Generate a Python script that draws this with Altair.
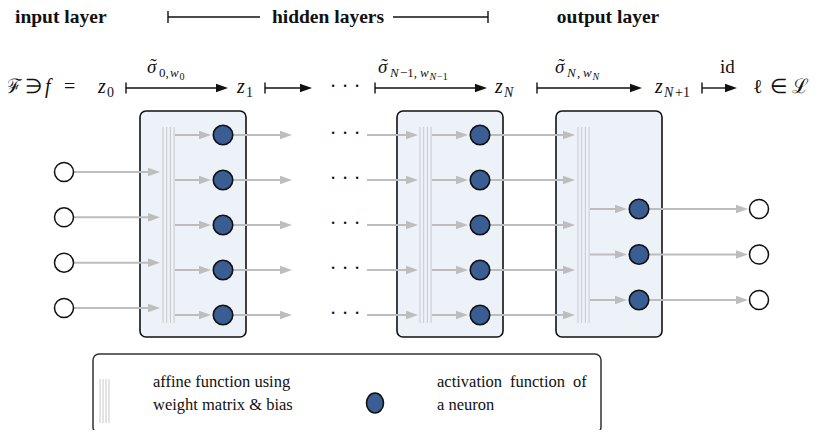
import altair as alt
import pandas as pd

# ---------------- content ----------------
header_labels = ["input layer", "hidden layers", "output layer"]
layer_counts = {"input": 4, "hidden": 5, "output": 3}
legend_affine_lines = ["affine function using", "weight matrix & bias"]
legend_neuron_words = ["activation", "function", "of"]
legend_neuron_line2 = ["a neuron"]
ellipsis_dot = "·"

# ---------------- layout (page pixel coordinates) ----------------
IN_X, H1_X, H2_X, ON_X, OUT_X = 64, 223, 480, 639, 759
HID_C, HID_SP = 225, 45
IN_C, IN_SP = 240, 45.33
OUT_C, OUT_SP = 254.5, 45.5


def rows(n, c, sp):
    return [c + (i - (n - 1) / 2) * sp for i in range(n)]


in_rows = rows(layer_counts["input"], IN_C, IN_SP)
hid_rows = rows(layer_counts["hidden"], HID_C, HID_SP)
out_rows = rows(layer_counts["output"], OUT_C, OUT_SP)

BOXES = [(140, 246), (397, 503), (556, 662)]
BOX_Y = (111, 337)
AFF_X0 = [163, 420, 578]
AFF_N, AFF_SP = 4, 3.7
AFF_Y = (127, 323)

ROW_Y = 88
TOP_ARROWS = [(126, 228), (265, 312), (375, 487), (537, 642), (702, 737)]
DOT_X = [333, 345, 357]

HB_Y = 17
HB_SEGS = [(168, 260), (393, 488)]
HB_TICKS = [168, 488]

LEG = (93, 601, 354, 433)
LEG_AFF_X0, LEG_AFF_Y = 100, (379, 423)
LEG_NEURON = (375, 403)

GRAY = "#bdbdbd"
AFF_COL = "#c9c9c9"
BOX_FILL = "#edf2f9"
NEURON = "#3a5e93"
INK = "#111111"
FONT = "Liberation Serif"

ARROW_PATH = "M0,0 L-1,-0.36 L-1,0.36 Z"
ELLIPSE_PATH = "M-0.85,0 A0.85,1 0 1,1 0.85,0 A0.85,1 0 1,1 -0.85,0 Z"

xs = alt.Scale(domain=[8, 811], nice=False, zero=False)
ys = alt.Scale(domain=[8, 430], nice=False, zero=False, reverse=True)


def X(f="x"):
    return alt.X(f"{f}:Q", scale=xs, axis=None)


def Y(f="y"):
    return alt.Y(f"{f}:Q", scale=ys, axis=None)


layers = []

# boxes
boxes = pd.DataFrame([{"x": a, "x2": b, "y": BOX_Y[0], "y2": BOX_Y[1]} for a, b in BOXES])
layers.append(alt.Chart(boxes).mark_rect(cornerRadius=6, fill=BOX_FILL, stroke=INK, strokeWidth=1.6)
              .encode(x=X(), x2="x2:Q", y=Y(), y2="y2:Q"))

# legend box
leg = pd.DataFrame([{"x": LEG[0], "x2": LEG[1], "y": LEG[2], "y2": LEG[3]}])
layers.append(alt.Chart(leg).mark_rect(cornerRadius=6, fill="white", stroke="#333333", strokeWidth=1.5)
              .encode(x=X(), x2="x2:Q", y=Y(), y2="y2:Q"))

# affine vertical lines
aff = []
for x0 in AFF_X0:
    for k in range(AFF_N):
        aff.append({"x": x0 + k * AFF_SP, "y": AFF_Y[0], "y2": AFF_Y[1]})
for k in range(AFF_N):
    aff.append({"x": LEG_AFF_X0 + k * 3.0, "y": LEG_AFF_Y[0], "y2": LEG_AFF_Y[1]})
layers.append(alt.Chart(pd.DataFrame(aff)).mark_rule(color=AFF_COL, strokeWidth=1)
              .encode(x=X(), y=Y(), y2="y2:Q"))

# gray arrows
gray_arrows = [
    (IN_X, 160, in_rows),
    (175, 211, hid_rows),
    (H1_X, 292, hid_rows),
    (367, 418, hid_rows),
    (432, 468, hid_rows),
    (H2_X, 575, hid_rows),
    (590, 627, out_rows),
    (ON_X, 748, out_rows),
]
shafts, heads = [], []
for x0, tip, rr in gray_arrows:
    for r in rr:
        shafts.append({"x": x0, "x2": tip - 8, "y": r})
        heads.append({"x": tip, "y": r})
layers.append(alt.Chart(pd.DataFrame(shafts)).mark_rule(color=GRAY, strokeWidth=2)
              .encode(x=X(), x2="x2:Q", y=Y()))
layers.append(alt.Chart(pd.DataFrame(heads)).mark_point(shape=ARROW_PATH, size=576, filled=True,
                                                        fill=GRAY, opacity=1, strokeWidth=0)
              .encode(x=X(), y=Y()))

# neurons
neur = [{"x": H1_X, "y": r} for r in hid_rows] + [{"x": H2_X, "y": r} for r in hid_rows] + \
       [{"x": ON_X, "y": r} for r in out_rows]
layers.append(alt.Chart(pd.DataFrame(neur)).mark_point(shape="circle", size=380, filled=True, fill=NEURON,
                                                       stroke=INK, strokeWidth=1.6, opacity=1)
              .encode(x=X(), y=Y()))
layers.append(alt.Chart(pd.DataFrame([{"x": LEG_NEURON[0], "y": LEG_NEURON[1]}]))
              .mark_point(shape=ELLIPSE_PATH, size=400, filled=True, fill=NEURON,
                          stroke=INK, strokeWidth=1.6, opacity=1)
              .encode(x=X(), y=Y()))

# input / output nodes
nodes = [{"x": IN_X, "y": r} for r in in_rows] + [{"x": OUT_X, "y": r} for r in out_rows]
layers.append(alt.Chart(pd.DataFrame(nodes)).mark_point(shape="circle", size=361, filled=True, fill="white",
                                                        stroke=INK, strokeWidth=1.5, opacity=1)
              .encode(x=X(), y=Y()))

# top black maps-to arrows and header bracket
bs, bt, bh = [], [], []
for a, b in TOP_ARROWS:
    bs.append({"x": a, "x2": b - 8, "y": ROW_Y})
    bt.append({"x": a, "y": ROW_Y - 5.5, "y2": ROW_Y + 5.5})
    bh.append({"x": b, "y": ROW_Y})
for a, b in HB_SEGS:
    bs.append({"x": a, "x2": b, "y": HB_Y})
for t in HB_TICKS:
    bt.append({"x": t, "y": HB_Y - 6, "y2": HB_Y + 6})
layers.append(alt.Chart(pd.DataFrame(bs)).mark_rule(color=INK, strokeWidth=1.4)
              .encode(x=X(), x2="x2:Q", y=Y()))
layers.append(alt.Chart(pd.DataFrame(bt)).mark_rule(color=INK, strokeWidth=1.4)
              .encode(x=X(), y=Y(), y2="y2:Q"))
layers.append(alt.Chart(pd.DataFrame(bh)).mark_point(shape=ARROW_PATH, size=576, filled=True,
                                                     fill=INK, opacity=1, strokeWidth=0)
              .encode(x=X(), y=Y()))

# ---------------- texts ----------------
texts = []


def T(text, x, y, fs, align="left", style="normal", weight="normal"):
    texts.append({"label": text, "x": x, "y": y, "fs": fs, "al": align, "st": style, "we": weight})


# header
HY = 23
T(header_labels[0], 15, HY, 19.5, weight="bold")
T(header_labels[1], 328, HY, 19.5, align="center", weight="bold")
T(header_labels[2], 608, HY, 19.5, align="center", weight="bold")

# main row
RB = ROW_Y + 5
T("ℱ", 5, RB, 20)
T("∋", 25, RB, 20)
T("f", 45, RB, 20, style="italic")
T("=", 64, RB, 20)
T("z", 98, RB, 20, style="italic")
T("0", 107, RB + 4, 14)
T("z", 237, RB, 20, style="italic")
T("1", 246, RB + 4, 14)
T("z", 495, RB, 20, style="italic")
T("N", 504, RB + 4, 14, style="italic")
T("z", 655, RB, 20, style="italic")
T("N", 664, RB + 4, 14, style="italic")
T("+1", 675, RB + 4, 14)
T("ℓ", 753, RB, 20)
T("∈", 770, RB, 20)
T("ℒ", 792, RB, 20)

# sigma labels (sigma + tilde + subscripts)
SB = 73
for sx in [147, 378, 555]:
    T("σ", sx, SB, 19, style="italic")
    T("˜", sx + 6.5, SB - 1, 19, align="center")
T("0,", 159, SB + 4, 13)
T("w", 170, SB + 4, 13, style="italic")
T("0", 179.5, SB + 7, 10)
T("N", 390, SB + 4, 13, style="italic")
T("−1,", 400, SB + 4, 13)
T("w", 420, SB + 4, 13, style="italic")
T("N", 429.5, SB + 7, 10, style="italic")
T("−1", 437, SB + 7, 10)
T("N", 567, SB + 4, 13, style="italic")
T(",", 577, SB + 4, 13)
T("w", 583, SB + 4, 13, style="italic")
T("N", 592.5, SB + 7, 10, style="italic")
T("id", 720, SB, 19)

# ellipsis dots
for r in hid_rows + [ROW_Y]:
    for dx in DOT_X:
        T(ellipsis_dot, dx, r + 5, 20, align="center")

# legend texts
T(legend_affine_lines[0], 153, 387, 16.5)
T(legend_affine_lines[1], 153, 410, 16.5)
for w, x in zip(legend_neuron_words, [437, 510, 573]):
    T(w, x, 387, 16.5)
T(legend_neuron_line2[0], 437, 410, 16.5)

tdf = pd.DataFrame(texts)
for (al, st, we, fs), g in tdf.groupby(["al", "st", "we", "fs"]):
    kw = dict(align=al, baseline="alphabetic", font=FONT, fontSize=float(fs), color=INK)
    if st != "normal":
        kw["fontStyle"] = st
    if we != "normal":
        kw["fontWeight"] = we
    layers.append(alt.Chart(g).mark_text(**kw).encode(x=X(), y=Y(), text="label:N"))

chart = alt.layer(*layers).properties(
    width=803, height=422, padding=0, autosize=alt.AutoSizeParams(type="none"), background="white"
).configure_view(stroke=None)

chart.save("out.html", embed_options={"renderer": "svg", "actions": False})
